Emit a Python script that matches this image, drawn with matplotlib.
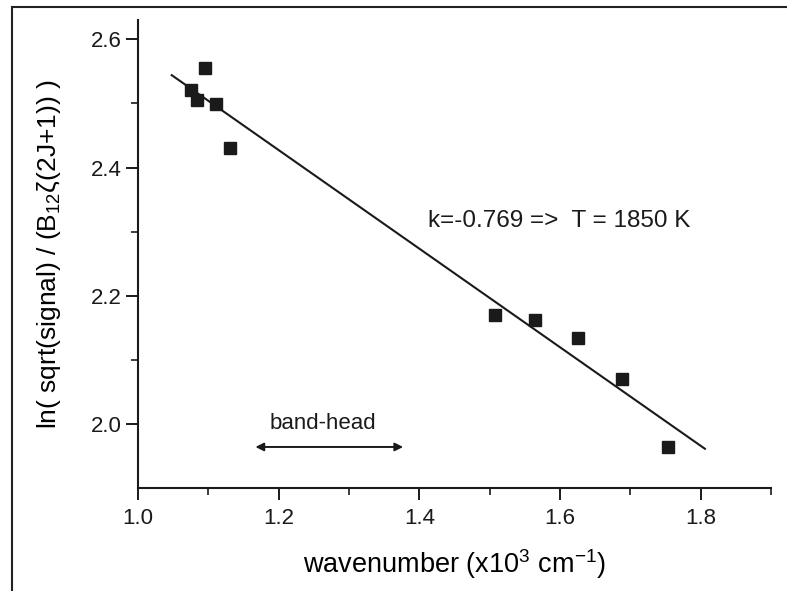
import matplotlib
matplotlib.use("Agg")
import matplotlib.pyplot as plt
from matplotlib.lines import Line2D
import numpy as np

plt.rcParams["font.family"] = ["Liberation Sans", "DejaVu Sans"]
plt.rcParams["mathtext.fontset"] = "custom"
plt.rcParams["mathtext.rm"] = "Liberation Sans"
plt.rcParams["mathtext.it"] = "Liberation Sans"

# measured points (wavenumber in 10^3 cm^-1, log term)
wavenumber = [1.075, 1.084, 1.095, 1.111, 1.131, 1.508, 1.565, 1.625, 1.688, 1.754]
log_signal = [2.521, 2.505, 2.555, 2.499, 2.431, 2.170, 2.162, 2.134, 2.070, 1.964]

# straight-line fit
slope = -0.769
intercept = 3.350
fit_range = [1.048, 1.806]

bandhead_range = [1.167, 1.377]

ink = "#1a1a1a"

fig = plt.figure(figsize=(7.87, 5.91), dpi=100)
ax = fig.add_axes([0.1753, 0.1743, 0.8044, 0.7917])

fit_x = np.array(fit_range)
ax.plot(fit_x, intercept + slope * fit_x, color=ink, linewidth=1.5)
ax.plot(wavenumber, log_signal, linestyle="none", marker="s", markersize=8.3,
        color=ink)

ax.annotate("", xy=(bandhead_range[0], 1.964), xytext=(bandhead_range[1], 1.964),
            arrowprops=dict(arrowstyle="<|-|>", color=ink, lw=1.4,
                            mutation_scale=12, shrinkA=0, shrinkB=0))
ax.text(1.263, 2.0, "band-head", ha="center", va="center", fontsize=16, color=ink)
ax.text(1.413, 2.317, "k=-0.769 =>  T = 1850 K", ha="left", va="center",
        fontsize=17.5, color=ink)

ax.set_xlim(1.0, 1.9)
ax.set_ylim(1.9, 2.63)
ax.set_xticks([1.0, 1.2, 1.4, 1.6, 1.8])
ax.set_xticks([1.1, 1.3, 1.5, 1.7, 1.9], minor=True)
ax.set_yticks([2.0, 2.2, 2.4, 2.6])
ax.set_yticks([2.1, 2.3, 2.5], minor=True)
ax.xaxis.set_major_formatter(plt.FormatStrFormatter("%.1f"))
ax.yaxis.set_major_formatter(plt.FormatStrFormatter("%.1f"))

for side in ("top", "right"):
    ax.spines[side].set_visible(False)
for side in ("left", "bottom"):
    ax.spines[side].set_linewidth(1.5)
    ax.spines[side].set_color(ink)

ax.tick_params(which="major", direction="out", length=8.5, width=1.4,
               labelsize=16, colors=ink)
ax.tick_params(axis="y", which="major", pad=3)
ax.tick_params(axis="x", which="major", pad=6)
ax.tick_params(which="minor", direction="out", length=5, width=1.2, colors=ink)

ax.set_xlabel("wavenumber (x10$^3$ cm$^{-1}$)", fontsize=19.5, labelpad=13)
ax.set_ylabel("ln( sqrt(signal) / (B$_{12}$ζ(2J+1)) )", fontsize=19, labelpad=20)

# scanned page frame (left and top edges)
fig.add_artist(Line2D([12 / 787, 12 / 787], [0, 1 - 7 / 591],
                      transform=fig.transFigure, color="#222222", linewidth=1.5))
fig.add_artist(Line2D([12 / 787, 1], [1 - 7 / 591, 1 - 7 / 591],
                      transform=fig.transFigure, color="#222222", linewidth=1.5))

fig.savefig("out.png", dpi=100)
